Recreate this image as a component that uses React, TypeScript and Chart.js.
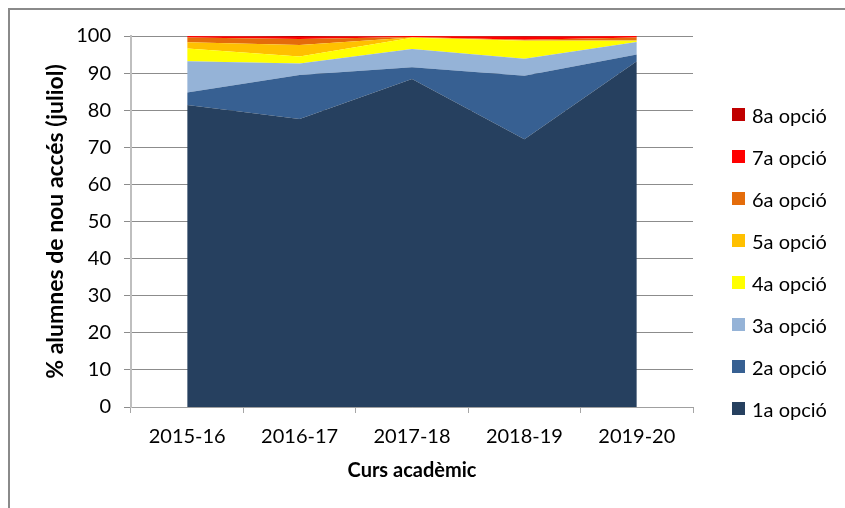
import React, { useEffect, useRef } from "react";
import { Chart, registerables } from "chart.js";

Chart.register(...registerables);

const categories = ["2015-16", "2016-17", "2017-18", "2018-19", "2019-20"];
const seriesNames = ["1a opció", "2a opció", "3a opció", "4a opció", "5a opció", "6a opció", "7a opció", "8a opció"];
const opcio1 = [81.4, 77.6, 88.4, 72.2, 93.2];
const opcio2 = [3.4, 11.9, 3.2, 17.1, 1.8];
const opcio3 = [8.4, 3.1, 4.9, 4.6, 3.4];
const opcio4 = [3.4, 1.9, 3.0, 4.8, 0.3];
const opcio5 = [1.7, 3.1, 0.1, 0.1, 0.1];
const opcio6 = [1.3, 1.6, 0.1, 0.2, 0.8];
const opcio7 = [0.4, 0.5, 0.3, 0.8, 0.4];
const opcio8 = [0.0, 0.3, 0.0, 0.2, 0.0];
const seriesValues = [opcio1, opcio2, opcio3, opcio4, opcio5, opcio6, opcio7, opcio8];
const seriesColors = ["#26405F", "#376092", "#95B3D7", "#FFFF00", "#FFC000", "#E46C0A", "#FF0000", "#C00000"];
const yTicks = [0, 10, 20, 30, 40, 50, 60, 70, 80, 90, 100];
const yTitle = "% alumnes de nou accés (juliol)";
const xTitle = "Curs acadèmic";

const FONT = "Lato, 'Open Sans', sans-serif";

export default function App() {
  const ref = useRef<HTMLCanvasElement | null>(null);

  useEffect(() => {
    const canvas = ref.current;
    if (!canvas) return;
    const chart = new Chart(canvas, {
      type: "line",
      data: {
        labels: categories,
        datasets: seriesValues.map((vals, i) => ({
          label: seriesNames[i],
          data: vals,
          backgroundColor: seriesColors[i],
          borderColor: seriesColors[i],
          borderWidth: 0,
          pointRadius: 0,
          tension: 0,
          fill: i === 0 ? "origin" : "-1",
        })),
      },
      options: {
        responsive: false,
        animation: false,
        devicePixelRatio: 1,
        layout: { padding: { left: 0, top: 36, right: 152, bottom: 0 } },
        plugins: {
          legend: { display: false },
          tooltip: { enabled: false },
        },
        scales: {
          x: {
            type: "category",
            offset: true,
            afterFit: (s: any) => {
              s.height = 101;
            },
            grid: {
              offset: true,
              drawOnChartArea: false,
              drawTicks: true,
              tickLength: 6,
              tickColor: "#a6a6a6",
            },
            border: { display: true, color: "#a0a0a0", width: 1 },
            ticks: {
              color: "#000",
              font: { family: FONT, size: 20 },
              padding: 12,
              maxRotation: 0,
            },
            title: {
              display: true,
              text: xTitle,
              color: "#000",
              font: { family: FONT, size: 20, weight: "bold" },
              padding: { top: 0, bottom: 25 },
            },
          },
          y: {
            stacked: true,
            min: 0,
            max: 100,
            afterFit: (s: any) => {
              s.width = 131;
            },
            afterBuildTicks: (s: any) => {
              s.ticks = yTicks.map((v) => ({ value: v }));
            },
            grid: {
              color: "#8c8c8c",
              lineWidth: 1,
              drawTicks: true,
              tickLength: 7,
              tickColor: "#8c8c8c",
            },
            border: { display: true, color: "#bfbfbf", width: 2 },
            ticks: {
              color: "#000",
              font: { family: FONT, size: 20 },
              padding: 13,
            },
            title: {
              display: true,
              text: yTitle,
              color: "#000",
              font: { family: FONT, size: 23, weight: "bold" },
              padding: { top: 42, bottom: 0 },
            },
          },
        },
      },
    });
    return () => chart.destroy();
  }, []);

  const legendItems = seriesNames.map((n, i) => ({ name: n, color: seriesColors[i], idx: i })).reverse();

  return (
    <div style={{ position: "fixed", left: 0, top: 0, width: 845, height: 508, overflow: "hidden", background: "#fff" }}>
      <div
        style={{
          position: "absolute",
          left: 8,
          top: 8,
          width: 900,
          height: 600,
          borderLeft: "2px solid #8a8a8a",
          borderTop: "2px solid #8a8a8a",
        }}
      />
      <canvas ref={ref} width={845} height={508} style={{ position: "absolute", left: 0, top: 0, width: 845, height: 508 }} />
      {legendItems.map((it, k) => (
        <div
          key={it.name}
          style={{
            position: "absolute",
            left: 732,
            top: 114.5 + k * 42 - 12,
            height: 24,
            display: "flex",
            alignItems: "center",
            fontFamily: FONT,
            fontSize: 20,
            color: "#000",
            whiteSpace: "nowrap",
          }}
        >
          <span style={{ display: "inline-block", width: 13, height: 13, background: it.color, marginRight: 7 }} />
          <span>{it.name}</span>
        </div>
      ))}
    </div>
  );
}
